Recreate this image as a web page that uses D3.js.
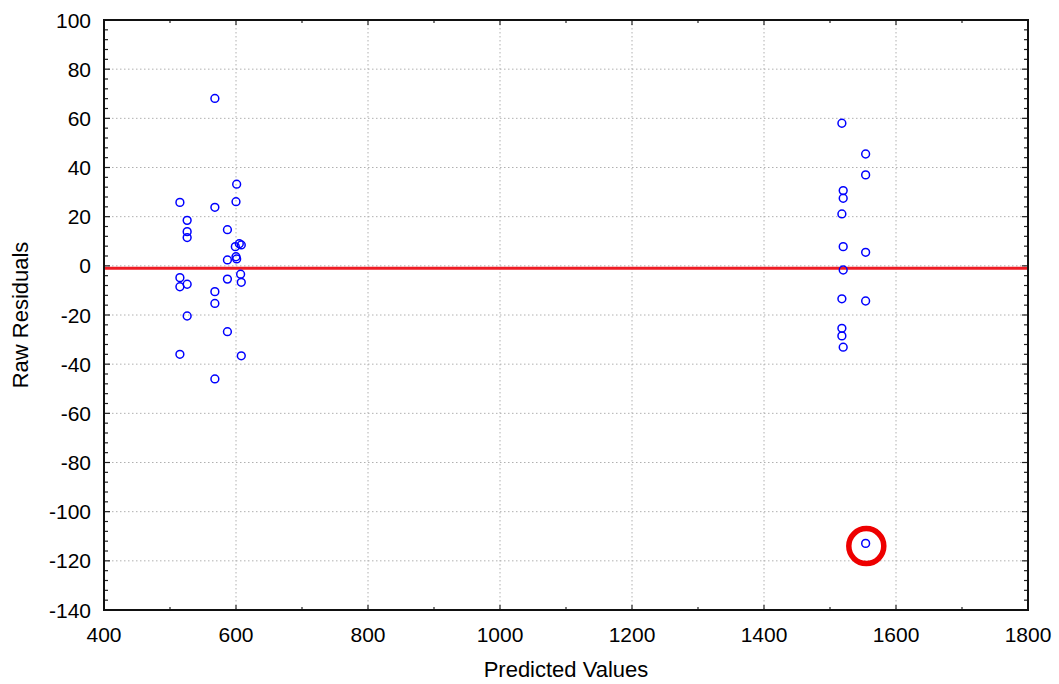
<!DOCTYPE html>
<html>
<head>
<meta charset="utf-8">
<script src="https://cdn.jsdelivr.net/npm/d3@7"></script>
<style>
  body { margin: 0; background: #fff; }
  svg text { font-family: "Liberation Sans", Arial, sans-serif; fill: #000; }
</style>
</head>
<body>
<div id="chart"></div>
<script>
// predicted values (x) and raw residuals (y)
const predicted = [
  568, 601, 515, 568, 600, 526, 526, 526, 587, 605, 608, 599, 600, 601, 587,
  607, 608, 587, 515, 515, 526, 568, 568, 526, 587, 515, 608, 568,
  1518, 1554, 1554, 1520, 1520, 1518, 1520, 1554, 1520, 1518, 1554, 1518, 1518, 1520, 1554
];
const residuals = [
  68.1, 33.2, 25.8, 23.8, 26.1, 18.5, 13.9, 11.5, 14.7, 9, 8.5, 7.8, 3.7, 2.8, 2.4,
  -3.4, -6.7, -5.4, -4.8, -8.5, -7.5, -10.5, -15.3, -20.4, -26.8, -36, -36.6, -46,
  58, 45.5, 37, 30.6, 27.5, 21.1, 7.8, 5.5, -1.7, -13.4, -14.3, -25.4, -28.5, -33.1, -112.9
];
const xTicks = [400, 600, 800, 1000, 1200, 1400, 1600, 1800];
const yTicks = [100, 80, 60, 40, 20, 0, -20, -40, -60, -80, -100, -120, -140];
const fitLevel = -1;
const outlier = { x: 1555, y: -114 };

const width = 1059, height = 684;
const margin = { left: 104, top: 20, right: 31, bottom: 74 };
const innerW = width - margin.left - margin.right;
const innerH = height - margin.top - margin.bottom;

const x = d3.scaleLinear().domain([400, 1800]).range([0, innerW]);
const y = d3.scaleLinear().domain([-140, 100]).range([innerH, 0]);

const svg = d3.select("#chart").append("svg")
  .attr("width", width)
  .attr("height", height);

const g = svg.append("g")
  .attr("transform", `translate(${margin.left},${margin.top})`);

// dotted grid
g.append("g")
  .selectAll("line.hgrid")
  .data(yTicks.slice(1, -1))
  .enter()
  .append("line")
  .attr("x1", 0).attr("x2", innerW)
  .attr("y1", d => y(d)).attr("y2", d => y(d))
  .attr("stroke", "#b0b0b0")
  .attr("stroke-width", 1)
  .attr("stroke-dasharray", "1.5,2.5");

g.append("g")
  .selectAll("line.vgrid")
  .data(xTicks.slice(1, -1))
  .enter()
  .append("line")
  .attr("y1", 0).attr("y2", innerH)
  .attr("x1", d => x(d)).attr("x2", d => x(d))
  .attr("stroke", "#b0b0b0")
  .attr("stroke-width", 1)
  .attr("stroke-dasharray", "1.5,2.5");

// fitted zero line
g.append("line")
  .attr("x1", 0).attr("x2", innerW)
  .attr("y1", y(fitLevel)).attr("y2", y(fitLevel))
  .attr("stroke", "#ee1c24")
  .attr("stroke-width", 3);

// points
g.append("g")
  .selectAll("circle")
  .data(predicted.map((p, i) => ({ p, r: residuals[i] })))
  .enter()
  .append("circle")
  .attr("cx", d => x(d.p))
  .attr("cy", d => y(d.r))
  .attr("r", 3.9)
  .attr("fill", "none")
  .attr("stroke", "#0000ff")
  .attr("stroke-width", 1.5);

// outlier marker
g.append("circle")
  .attr("cx", x(outlier.x))
  .attr("cy", y(outlier.y))
  .attr("r", 17.5)
  .attr("fill", "none")
  .attr("stroke", "#ee0000")
  .attr("stroke-width", 5.5);

// ticks on all four sides, pointing inside
const xMinor = d3.range(500, 1800, 200);
const yMinor = d3.range(-140, 100, 4).filter(v => !yTicks.includes(v));

function tickLines(data, make) {
  g.append("g").selectAll("line").data(data).enter().append("line")
    .attr("stroke", "#222").attr("stroke-width", 1.2)
    .each(function (d) { make(d3.select(this), d); });
}

tickLines(xTicks, (s, d) => s.attr("x1", x(d)).attr("x2", x(d)).attr("y1", innerH).attr("y2", innerH - 5));
tickLines(xTicks, (s, d) => s.attr("x1", x(d)).attr("x2", x(d)).attr("y1", 0).attr("y2", 5));
tickLines(xMinor, (s, d) => s.attr("x1", x(d)).attr("x2", x(d)).attr("y1", innerH).attr("y2", innerH - 3));
tickLines(xMinor, (s, d) => s.attr("x1", x(d)).attr("x2", x(d)).attr("y1", 0).attr("y2", 3));
tickLines(yTicks, (s, d) => s.attr("y1", y(d)).attr("y2", y(d)).attr("x1", 0).attr("x2", 6));
tickLines(yTicks, (s, d) => s.attr("y1", y(d)).attr("y2", y(d)).attr("x1", innerW).attr("x2", innerW - 6));
tickLines(yMinor, (s, d) => s.attr("y1", y(d)).attr("y2", y(d)).attr("x1", 0).attr("x2", 4));
tickLines(yMinor, (s, d) => s.attr("y1", y(d)).attr("y2", y(d)).attr("x1", innerW).attr("x2", innerW - 4));

// frame
g.append("rect")
  .attr("width", innerW)
  .attr("height", innerH)
  .attr("fill", "none")
  .attr("stroke", "#111")
  .attr("stroke-width", 2);

// tick labels
g.append("g")
  .selectAll("text")
  .data(xTicks)
  .enter()
  .append("text")
  .attr("x", d => x(d))
  .attr("y", innerH + 32)
  .attr("text-anchor", "middle")
  .attr("font-size", "21px")
  .text(d => d);

g.append("g")
  .selectAll("text")
  .data(yTicks)
  .enter()
  .append("text")
  .attr("x", -13)
  .attr("y", d => y(d))
  .attr("dy", "0.36em")
  .attr("text-anchor", "end")
  .attr("font-size", "21px")
  .text(d => d);

// axis titles
svg.append("text")
  .attr("x", margin.left + innerW / 2)
  .attr("y", 677)
  .attr("text-anchor", "middle")
  .attr("font-size", "22px")
  .text("Predicted Values");

svg.append("text")
  .attr("transform", `translate(28,${margin.top + innerH / 2}) rotate(-90)`)
  .attr("text-anchor", "middle")
  .attr("font-size", "22px")
  .text("Raw Residuals");
</script>
</body>
</html>
